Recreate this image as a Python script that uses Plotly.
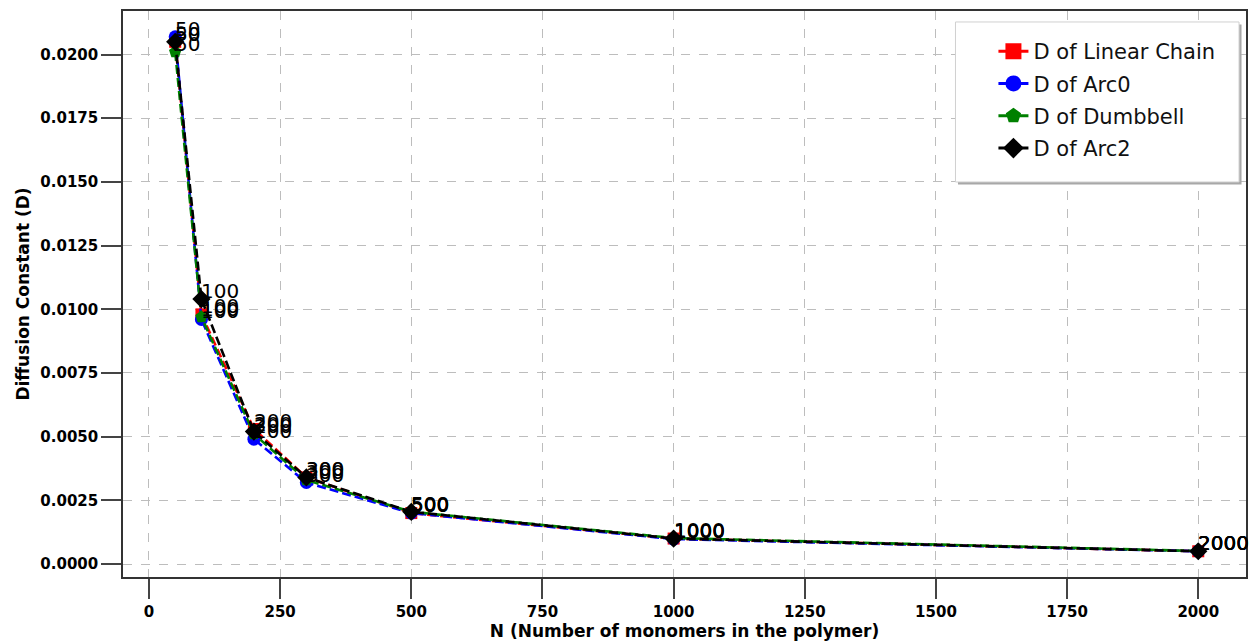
import plotly.graph_objects as go

# Chain lengths (number of monomers)
n_values = [50, 100, 200, 300, 500, 1000, 2000]

# Diffusion constants for each polymer architecture
d_linear = [0.0205, 0.0098, 0.0053, 0.0034, 0.0020, 0.0010, 0.00050]
d_arc0 = [0.0207, 0.0096, 0.0049, 0.0032, 0.0020, 0.00098, 0.00050]
d_dumbbell = [0.0201, 0.0097, 0.0051, 0.0033, 0.00205, 0.00102, 0.00051]
d_arc2 = [0.0205, 0.0104, 0.0052, 0.0034, 0.00205, 0.0010, 0.00050]

series_names = ["D of Linear Chain", "D of Arc0", "D of Dumbbell", "D of Arc2"]
series_values = [d_linear, d_arc0, d_dumbbell, d_arc2]
series_colors = ["#ff0000", "#0000ff", "#008000", "#000000"]
series_symbols = ["square", "circle", "pentagon", "diamond"]
series_sizes = [12, 13, 13, 14]

FONT = "DejaVu Sans"

fig = go.Figure()

for name, vals, color, sym, size in zip(series_names, series_values,
                                        series_colors, series_symbols, series_sizes):
    fig.add_trace(go.Scatter(
        x=n_values, y=vals, name=name, mode="lines+markers",
        legendgroup=name, showlegend=False,
        line=dict(color=color, width=2.6, dash="9px,4px"),
        marker=dict(symbol=sym, size=size, color=color),
    ))

# Legend keys with larger symbols than the plotted markers
for name, color, sym in zip(series_names, series_colors, series_symbols):
    fig.add_trace(go.Scatter(
        x=[None], y=[None], name=name, mode="lines+markers",
        legendgroup=name, showlegend=True,
        line=dict(color=color, width=3),
        marker=dict(symbol=sym, size=16, color=color),
    ))

# Label every point with its chain length
annotations = []
for vals in series_values:
    for n, d in zip(n_values, vals):
        annotations.append(dict(
            x=n, y=d, xref="x", yref="y", text=str(n), showarrow=False,
            xanchor="left", yanchor="bottom", xshift=-2, yshift=-6,
            font=dict(family=FONT, size=20, color="black"),
        ))

# Legend frame with a soft drop shadow
box_x0, box_x1 = 0.7413, 0.9938
box_y0, box_y1 = 0.6979, 0.9806
dx, dy = 2.5 / 1125, 2.5 / 566
shapes = [
    dict(type="rect", xref="paper", yref="paper", layer="above",
         x0=box_x0 + dx, x1=box_x1 + dx, y0=box_y0 - dy, y1=box_y1 - dy,
         fillcolor="#a8a8a8", line=dict(width=0)),
    dict(type="rect", xref="paper", yref="paper", layer="above",
         x0=box_x0, x1=box_x1, y0=box_y0, y1=box_y1,
         fillcolor="white", line=dict(color="#d0d0d0", width=1)),
]

axis_common = dict(
    showline=True, linecolor="#333333", linewidth=1.5, mirror=True,
    showgrid=True, gridcolor="#bdbdbd", griddash="dash", gridwidth=1,
    ticks="outside", ticklen=20, tickwidth=1.5, tickcolor="#444444",
    tickfont=dict(family=FONT, size=15, color="black", weight="bold"),
    zeroline=False,
)

fig.update_layout(
    width=1252, height=642,
    margin=dict(l=123, r=4, t=11, b=65),
    plot_bgcolor="white", paper_bgcolor="white",
    font=dict(family=FONT, color="black"),
    xaxis=dict(
        range=[-49.5, 2091], tickvals=[0, 250, 500, 750, 1000, 1250, 1500, 1750, 2000],
        title=dict(text="N (Number of monomers in the polymer)", standoff=4,
                   font=dict(family=FONT, size=17, weight="bold")),
        **axis_common,
    ),
    yaxis=dict(
        range=[-0.00051, 0.02171],
        tickvals=[0.0, 0.0025, 0.005, 0.0075, 0.01, 0.0125, 0.015, 0.0175, 0.02],
        tickformat=".4f",
        title=dict(text="Diffusion Constant (D)", standoff=6,
                   font=dict(family=FONT, size=17, weight="bold")),
        **axis_common,
    ),
    legend=dict(
        x=0.7751, y=0.9647, xanchor="left", yanchor="top",
        bgcolor="rgba(0,0,0,0)", borderwidth=0,
        font=dict(family=FONT, size=21, color="#111111"),
        traceorder="grouped", tracegroupgap=2, itemsizing="trace",
    ),
    shapes=shapes,
    annotations=annotations,
    showlegend=True,
)

fig.write_html("out.html")
